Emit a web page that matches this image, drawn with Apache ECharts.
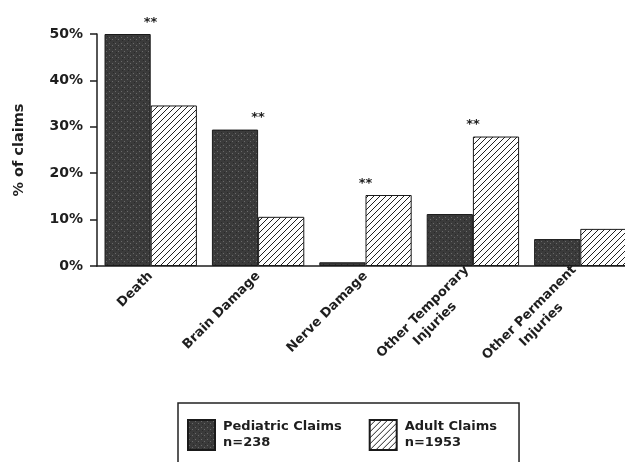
<!DOCTYPE html>
<html>
<head>
<meta charset="utf-8">
<script src="https://cdn.jsdelivr.net/npm/echarts@6/dist/echarts.min.js"></script>
<style>
  html, body { margin: 0; padding: 0; background: #fff; }
  #chart { width: 625px; height: 462px; }
</style>
</head>
<body>
<div id="chart"></div>
<script>
// Data
const categories = ['Death', 'Brain Damage', 'Nerve Damage', 'Other Temporary\nInjuries', 'Other Permanent\nInjuries'];
const pediatric = [50, 29.4, 0.8, 11.2, 5.8];
const adult = [34.6, 10.6, 15.3, 27.9, 8.0];
const significant = [true, true, true, true, false];
const yTicks = [0, 10, 20, 30, 40, 50];

const ink = '#1e1e1e';
const font = '"DejaVu Sans", Verdana, sans-serif';

// Dark stippled fill
function stipple() {
  const c = document.createElement('canvas');
  c.width = 6; c.height = 6;
  const g = c.getContext('2d');
  g.fillStyle = '#3b3b3b';
  g.fillRect(0, 0, 6, 6);
  g.fillStyle = '#6a6a6a';
  g.fillRect(1, 1, 1, 1);
  g.fillRect(4, 3, 1, 1);
  g.fillStyle = '#2a2a2a';
  g.fillRect(2, 4, 1, 1);
  g.fillRect(5, 0, 1, 1);
  return c;
}

// Diagonal hatch "/"
function hatch() {
  const c = document.createElement('canvas');
  c.width = 6; c.height = 6;
  const g = c.getContext('2d');
  g.fillStyle = '#fff';
  g.fillRect(0, 0, 6, 6);
  g.strokeStyle = '#222';
  g.lineWidth = 1;
  g.beginPath();
  g.moveTo(-1, 7); g.lineTo(7, -1);
  g.moveTo(-1, 1); g.lineTo(1, -1);
  g.moveTo(5, 7); g.lineTo(7, 5);
  g.stroke();
  return c;
}

function withStars(values, other, offsetX) {
  return values.map((v, i) => {
    const show = significant[i] && v >= other[i];
    return {
      value: v,
      label: show ? { show: true, offset: [offsetX, 0] } : { show: false }
    };
  });
}

const starLabel = {
  position: 'top',
  distance: 5,
  formatter: '**',
  color: ink,
  fontSize: 13,
  fontWeight: 'bold',
  fontFamily: font
};

const chart = echarts.init(document.getElementById('chart'));

chart.setOption({
  animation: false,
  backgroundColor: '#fff',
  textStyle: { fontFamily: font },
  grid: { left: 97, top: 34, bottom: 196, right: -9, outerBoundsMode: 'none', containLabel: false },
  legend: {
    left: 178,
    top: 403,
    orient: 'horizontal',
    icon: 'rect',
    padding: [16, 22, 22, 9],
    borderColor: '#222',
    borderWidth: 1.5,
    itemWidth: 27,
    itemHeight: 30,
    itemGap: 27,
    textStyle: { color: ink, fontSize: 13, fontWeight: 'bold', lineHeight: 16, fontFamily: font, padding: [0, 0, 0, 3] },
    data: ['Pediatric Claims\nn=238', 'Adult Claims\nn=1953']
  },
  xAxis: {
    type: 'category',
    data: categories,
    axisLine: { lineStyle: { color: ink, width: 1.5 } },
    axisTick: { show: false },
    axisLabel: {
      interval: 0,
      rotate: 45,
      margin: 8,
      color: ink,
      formatter: v => v.split('\n').map(s => '{c|' + s + '}').join('\n'),
      rich: {
        c: { align: 'center', fontSize: 13, fontWeight: 'bold', fontFamily: font, color: ink, lineHeight: 17 }
      }
    }
  },
  yAxis: {
    type: 'value',
    min: yTicks[0],
    max: yTicks[yTicks.length - 1],
    interval: 10,
    name: '% of claims',
    nameLocation: 'middle',
    nameRotate: 90,
    nameGap: 70,
    nameTextStyle: { color: ink, fontSize: 14.5, fontWeight: 'bold', fontFamily: font },
    axisLine: { show: true, lineStyle: { color: ink, width: 1.5 } },
    axisTick: { show: true, inside: false, length: 7, lineStyle: { color: ink, width: 1.5 } },
    splitLine: { show: false },
    axisLabel: {
      margin: 14,
      color: ink,
      fontSize: 14,
      fontWeight: 'bold',
      fontFamily: font,
      formatter: '{value}%'
    }
  },
  series: [
    {
      name: 'Pediatric Claims\nn=238',
      type: 'bar',
      barGap: '0%',
      barCategoryGap: '14%',
      data: withStars(pediatric, adult, 23),
      label: starLabel,
      itemStyle: { color: { image: stipple(), repeat: 'repeat' }, borderColor: '#1a1a1a', borderWidth: 1 }
    },
    {
      name: 'Adult Claims\nn=1953',
      type: 'bar',
      data: withStars(adult, pediatric, -23),
      label: starLabel,
      itemStyle: { color: { image: hatch(), repeat: 'repeat' }, borderColor: '#1a1a1a', borderWidth: 1 }
    }
  ]
});
</script>
</body>
</html>
